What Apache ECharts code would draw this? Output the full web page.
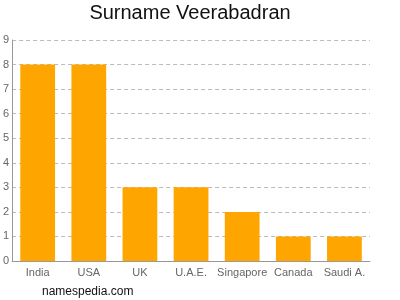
<!DOCTYPE html>
<html><head><meta charset="utf-8">
<script src="https://cdn.jsdelivr.net/npm/echarts@6/dist/echarts.min.js"></script>
<style>html,body{margin:0;padding:0;background:#fff}#c{width:400px;height:300px}</style>
</head><body><div id="c"></div>
<script>
var categories = ["India","USA","UK","U.A.E.","Singapore","Canada","Saudi A."];
var values = [8,8,3,3,2,1,1];
var yTicks = [0,1,2,3,4,5,6,7,8,9];

var chart = echarts.init(document.getElementById('c'), null, {renderer:'canvas'});
chart.setOption({
  animation:false,
  backgroundColor:'#fff',
  title:[{text:'Surname Veerabadran', left:190, top:3, textAlign:'center', padding:[0,0,0,0],
    textStyle:{fontFamily:'Liberation Sans, Arial', fontSize:20, fontWeight:'normal', color:'#111'}},
    {text:'namespedia.com', left:42, top:286, padding:[0,0,0,0],
    textStyle:{fontFamily:'Liberation Sans, Arial', fontSize:12, fontWeight:'normal', color:'#111'}}],
  grid:{left:12, right:30, top:40, bottom:39, containLabel:false},
  xAxis:{type:'category', data:categories,
    axisLine:{lineStyle:{color:'#999'}}, axisTick:{show:false},
    axisLabel:{color:'#666', fontFamily:'Liberation Sans, Arial', fontSize:11, margin:6, interval:0}},
  yAxis:{type:'value', min:0, max:9, interval:1,
    axisLine:{show:true, lineStyle:{color:'#999'}}, axisTick:{show:false},
    axisLabel:{color:'#666', fontFamily:'Liberation Sans, Arial', fontSize:11, margin:3,
      formatter:function(v){return yTicks.indexOf(v)>=0?String(v):'';}},
    splitLine:{show:true, lineStyle:{color:'#bbb', type:[4,3]}}},
  series:[{type:'bar', data:values, barWidth:'68%', itemStyle:{color:'#ffa500'}}]
});
</script></body></html>
